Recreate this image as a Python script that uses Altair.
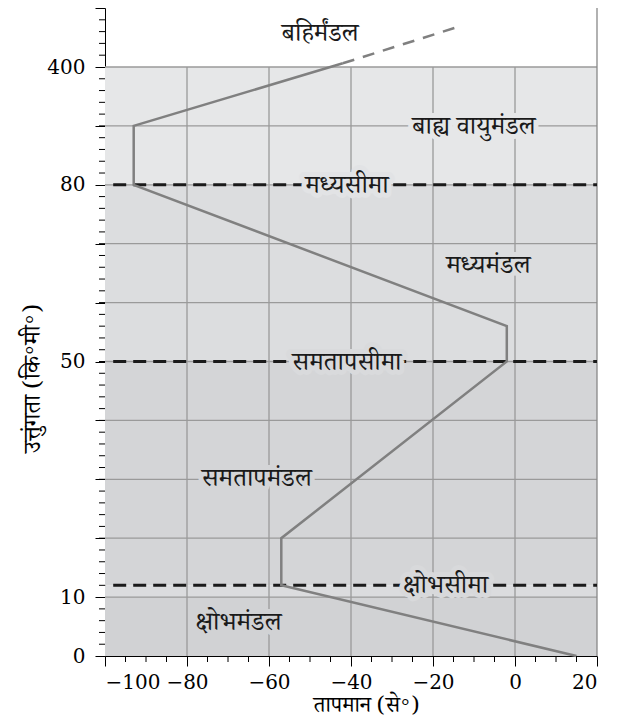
import altair as alt
import pandas as pd

# ---- data ----
T_MIN, T_MAX = -100, 20
X_TICKS = [-100, -80, -60, -40, -20, 0, 20]
X_GRID = [-80, -60, -40, -20, 0]

# altitude slots of the (non-linear) y axis
Y_BREAKS = [0, 10, 50, 80, 400, 560]
Y_TICKS = [0, 10, 20, 30, 40, 50, 60, 70, 80, 240, 400, 560]
Y_LABELED = [0, 10, 50, 80, 400]
Y_GRID = [10, 20, 30, 40, 50, 60, 70, 80, 240, 400]

# temperature profile (solid part, then dashed continuation)
prof_temp = [15, -57, -57, -2, -2, -93, -93, -42]
prof_alt = [0, 12, 20, 50, 56, 80, 240, 410]
ext_temp = [-42, -13]
ext_alt = [410, 512]

# shaded layers
band_lo = [0, 10, 12, 50, 80]
band_hi = [10, 12, 50, 80, 400]

# boundaries (pauses)
pause_alt = [12, 50, 80]

# text labels
lab_text = ["बहिर्मंडल", "बाह्य वायुमंडल", "मध्यसीमा", "मध्यमंडल",
            "समतापसीमा", "समतापमंडल", "क्षोभसीमा", "क्षोभमंडल"]
lab_temp = [-47.5, -10, -41, -6.5, -41, -63, -17, -67.5]
lab_alt = [492, 240, 80, 66.4, 50, 30.2, 12, 5.8]

# ---- styles ----
BAND_COLORS = ["#d1d2d4", "#dbdcde", "#d4d5d7", "#dcdddf", "#e6e7e8"]
HALO_COLORS = ["#ffffff", "#e6e7e8", "#e2e3e5", "#dcdddf",
               "#d9dadc", "#d4d5d7", "#d8d9db", "#d1d2d4"]
W, H = 492, 648
SLOT = (H - 59) / 10
Y_RANGE = [H, H - SLOT, H - 5 * SLOT, H - 8 * SLOT, 59, 0]
DEV_FONT = "Noto Serif Devanagari, Noto Sans Devanagari, Lohit Devanagari, Noto Sans, sans-serif"
NUM_FONT = "DejaVu Serif"
LAB_SIZE = 26

xs = alt.Scale(domain=[T_MIN, T_MAX], nice=False, zero=False)
ys = alt.Scale(domain=Y_BREAKS, range=Y_RANGE)

# minor ticks
minor_y = []
for lo, hi, n in [(0, 10, 5), (10, 80, 35), (80, 400, 10), (400, 560, 5)]:
    step = (hi - lo) / n
    minor_y += [lo + step * i for i in range(1, n)]
minor_x = [v for v in range(-95, 20, 5) if v % 20 != 0]

AX = alt.Axis(values=X_TICKS, tickSize=10, tickColor="black", domainColor="black",
              labelFont=NUM_FONT, labelFontSize=20, labelColor="black", labelPadding=6,
              labelOverlap=False,
              title="तापमान (से॰)", titleFont=DEV_FONT, titleFontSize=22,
              titleFontWeight="normal", titleColor="black",
              titleX=261, titleY=48, titleBaseline="middle", grid=False)
lab_expr = " || ".join(f"datum.value == {v}" for v in Y_LABELED)
AY = alt.Axis(values=Y_TICKS, tickSize=10, tickColor="black", domainColor="black",
              labelExpr=f"({lab_expr}) ? datum.value : ''",
              labelFont=NUM_FONT, labelFontSize=20, labelColor="black", labelPadding=10,
              title="उत्तुंगता (कि॰मी॰)", titleFont=DEV_FONT, titleFontSize=24,
              titleFontWeight="normal", titleColor="black", titlePadding=2,
              titleY=370, grid=False)


def X(f):
    return alt.X(f, scale=xs, axis=AX)


def Y(f):
    return alt.Y(f, scale=ys, axis=AY)


bands = pd.DataFrame({"lo": band_lo, "hi": band_hi, "c": BAND_COLORS,
                      "x0": T_MIN, "x1": T_MAX})
band_layer = alt.Chart(bands).mark_rect().encode(
    x=X("x0:Q"), x2="x1:Q", y=Y("lo:Q"), y2="hi:Q",
    color=alt.Color("c:N", scale=None),
)

hgrid = alt.Chart(pd.DataFrame({"a": Y_GRID, "x0": T_MIN, "x1": T_MAX})).mark_rule(
    color="#9a9a9a", strokeWidth=1.3).encode(x=X("x0:Q"), x2="x1:Q", y=Y("a:Q"))

vgrid = alt.Chart(pd.DataFrame({"t": X_GRID, "y0": 0, "y1": 400})).mark_rule(
    color="#9a9a9a", strokeWidth=1.3).encode(x=X("t:Q"), y=Y("y0:Q"), y2="y1:Q")

rborder = alt.Chart(pd.DataFrame({"t": [T_MAX], "y0": 0, "y1": Y_BREAKS[-1]})).mark_rule(
    color="#888888", strokeWidth=1.3).encode(x=X("t:Q"), y=Y("y0:Q"), y2="y1:Q")

pauses = alt.Chart(pd.DataFrame({"a": pause_alt, "x0": T_MIN + 2, "x1": T_MAX})).mark_rule(
    color="#1a1a1a", strokeWidth=3, strokeDash=[13, 7]).encode(
    x=X("x0:Q"), x2="x1:Q", y=Y("a:Q"))

prof = pd.DataFrame({"t": prof_temp, "a": prof_alt, "i": range(len(prof_temp))})
prof_line = alt.Chart(prof).mark_line(color="#808080", strokeWidth=2.5, strokeJoin="miter").encode(
    x=X("t:Q"), y=Y("a:Q"), order="i:Q")

ext = pd.DataFrame({"t": ext_temp, "a": ext_alt, "i": range(len(ext_temp))})
ext_line = alt.Chart(ext).mark_line(color="#808080", strokeWidth=2.5, strokeDash=[12, 9]).encode(
    x=X("t:Q"), y=Y("a:Q"), order="i:Q")

labels = pd.DataFrame({"txt": lab_text, "t": lab_temp, "a": lab_alt, "h": HALO_COLORS})
halo = alt.Chart(labels).mark_text(font=DEV_FONT, fontSize=LAB_SIZE, strokeWidth=10,
                                   strokeJoin="round", baseline="middle").encode(
    x=X("t:Q"), y=Y("a:Q"), text="txt:N",
    stroke=alt.Color("h:N", scale=None),
    fill=alt.Color("h:N", scale=None))
text = alt.Chart(labels).mark_text(font=DEV_FONT, fontSize=LAB_SIZE, color="#1a1a1a",
                                   baseline="middle").encode(
    x=X("t:Q"), y=Y("a:Q"), text="txt:N")

ytick_minor = alt.Chart(pd.DataFrame({"a": minor_y})).mark_rule(color="black", strokeWidth=1).encode(
    x=alt.value(-6), x2=alt.value(0), y=Y("a:Q"))
xtick_minor = alt.Chart(pd.DataFrame({"t": minor_x})).mark_rule(color="black", strokeWidth=1).encode(
    x=X("t:Q"), y=alt.value(H), y2=alt.value(H + 6))

chart = alt.layer(
    band_layer, hgrid, vgrid, rborder, pauses, prof_line, ext_line, halo, text,
    ytick_minor, xtick_minor,
).properties(
    width=W, height=H,
    autosize=alt.AutoSizeParams(type="none"),
    padding={"left": 97, "top": 0, "right": 23, "bottom": 70},
    background="white",
).configure_view(stroke=None)

chart.save("out.html", embed_options={"renderer": "svg", "actions": False})
